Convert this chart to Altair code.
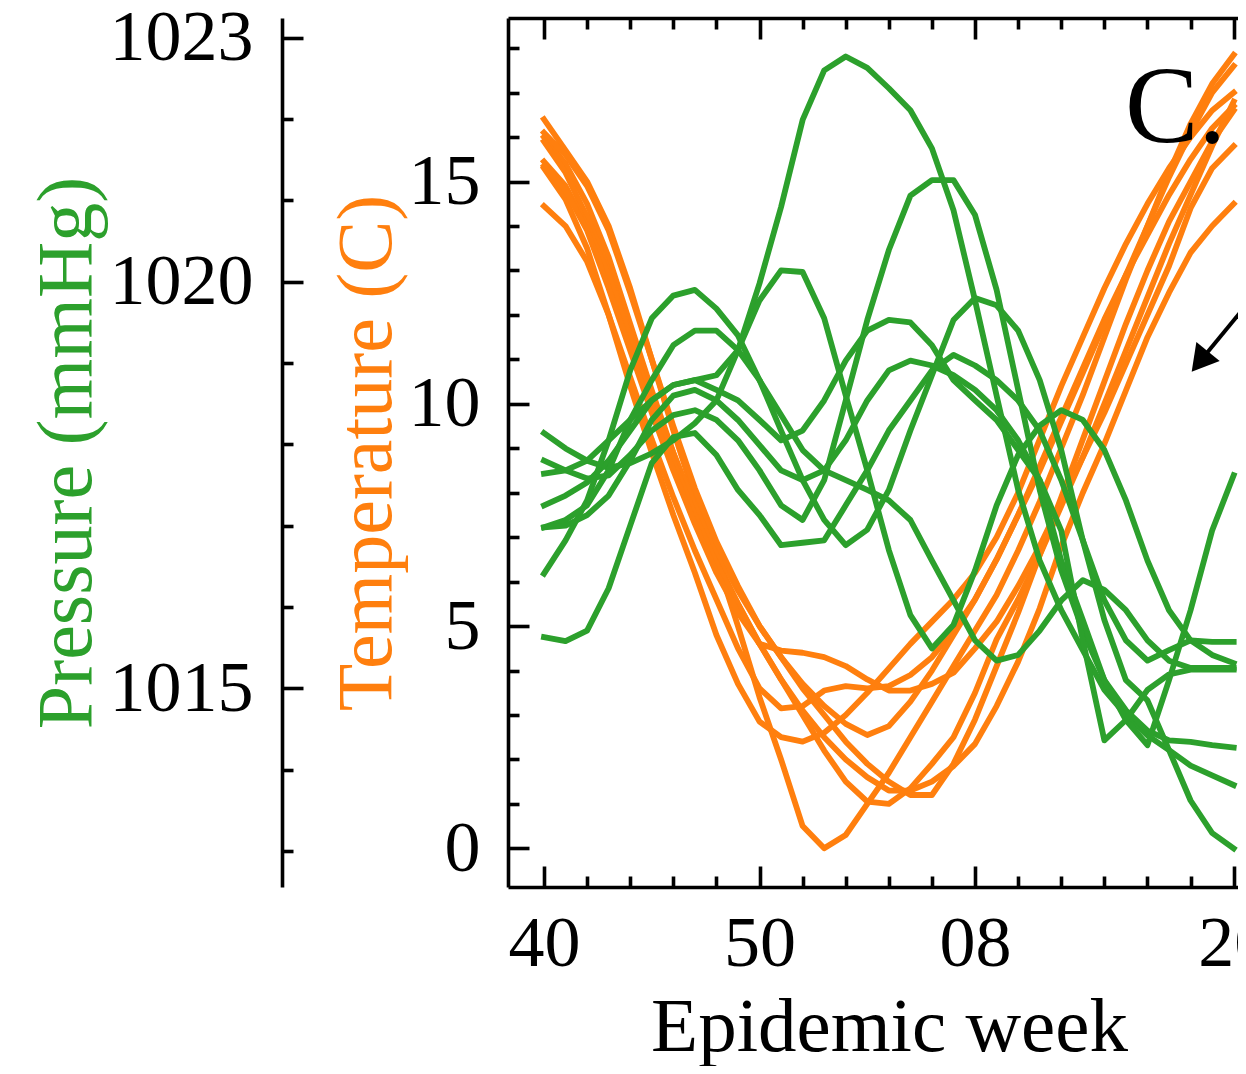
import altair as alt
import pandas as pd

ORANGE = "#ff7f0e"
GREEN = "#2ca02c"
FONT = "Liberation Serif"

# ---------------- data ----------------
week_index = list(range(33))                 # 0 = week 40 ... 32 = week 20
x_tick_values = list(range(0, 33, 2))
x_major_ticks = [0, 10, 20, 32]
x_major_labels = ["40", "50", "08", "20"]
temp_tick_values = list(range(0, 19))
temp_major_ticks = [0, 5, 10, 15]
pres_tick_values = list(range(1013, 1024))
pres_major_ticks = [1015, 1020, 1023]

temperature = {
    "t1": [16.4, 15.7, 15.0, 14.0, 12.6, 11.0, 9.4, 7.9, 6.5, 5.0, 3.4, 2.0, 0.5, 0.0, 0.3, 1.0, 1.7,
           2.5, 3.3, 4.1, 4.9, 5.7, 6.7, 7.8, 9.0, 10.2, 11.5, 12.8, 14.0, 15.2, 16.3, 17.2, 17.85],
    "t2": [16.0, 15.4, 14.5, 13.3, 11.8, 10.3, 8.9, 7.6, 6.5, 5.5, 4.6, 3.8, 3.0, 2.2, 1.5, 1.05, 1.0,
           1.35, 1.9, 2.5, 3.5, 4.7, 5.6, 6.6, 7.7, 8.8, 10.0, 11.2, 12.4, 13.6, 14.7, 15.8, 16.8],
    "t3": [15.9, 15.2, 14.2, 13.0, 11.6, 10.2, 8.9, 7.7, 6.7, 5.8, 5.0, 4.3, 3.6, 3.0, 2.4, 1.9, 1.5,
           1.2, 1.2, 1.9, 2.9, 4.1, 5.3, 6.6, 7.9, 9.2, 10.5, 11.8, 13.0, 14.1, 15.0, 15.9, 16.6],
    "t4": [15.45, 14.9, 14.0, 12.9, 11.5, 10.0, 8.7, 7.5, 6.4, 5.5, 4.6, 3.8, 3.1, 2.5, 2.0, 1.6, 1.3,
           1.3, 1.5, 1.85, 2.35, 3.2, 4.2, 5.4, 6.8, 8.0, 9.1, 10.3, 11.5, 12.5, 13.4, 14.0, 14.5],
    "t5": [15.3, 14.6, 13.5, 12.0, 10.4, 8.9, 7.5, 6.2, 4.8, 3.7, 2.85, 2.5, 2.4, 2.6, 3.0, 3.5, 4.05,
           4.6, 5.1, 5.6, 6.2, 7.0, 8.0, 9.2, 10.4, 11.5, 12.6, 13.6, 14.5, 15.3, 16.0, 16.6, 17.0],
    "t6": [14.45, 14.0, 13.2, 12.0, 10.6, 9.2, 7.9, 6.7, 5.6, 4.5, 3.6, 3.15, 3.2, 3.55, 3.65, 3.6, 3.65,
           3.9, 4.3, 4.9, 5.6, 6.5, 7.5, 8.6, 9.7, 10.8, 11.9, 12.9, 13.8, 14.7, 15.5, 16.2, 16.7],
    "t7": [15.35, 14.8, 13.9, 12.6, 11.2, 9.8, 8.5, 7.3, 6.2, 5.3, 4.6, 4.45, 4.4, 4.3, 4.1, 3.8, 3.55,
           3.55, 3.7, 3.95, 4.5, 5.1, 5.9, 6.8, 7.8, 8.8, 9.8, 10.9, 12.0, 13.1, 14.4, 15.3, 15.8],
    "t8": [16.1, 15.6, 14.9, 13.9, 12.5, 11.0, 9.5, 8.1, 6.9, 5.9, 5.0, 4.3, 3.7, 3.2, 2.8, 2.55, 2.75,
           3.3, 4.0, 4.8, 5.6, 6.5, 7.5, 8.5, 9.6, 10.7, 11.8, 12.9, 14.0, 15.1, 16.1, 17.0, 17.6],
}

pressure = {
    "p1": [1018.14, 1017.95, 1017.80, 1017.71, 1017.77, 1017.89, 1018.05, 1018.26, 1018.54, 1019.16,
           1019.98, 1020.92, 1021.99, 1022.60, 1022.77, 1022.63, 1022.38, 1022.11, 1021.64, 1020.88,
           1019.77, 1018.60, 1017.44, 1016.57, 1015.96, 1015.47, 1014.98, 1014.67, 1014.42, 1014.24,
           1014.05, 1013.93, 1013.81],
    "p2": [1017.25, 1017.37, 1017.53, 1017.80, 1018.17, 1018.54, 1018.73, 1018.79, 1018.85, 1019.16,
           1019.77, 1020.14, 1020.12, 1019.55, 1018.60, 1017.68, 1016.70, 1015.90, 1015.49, 1015.78,
           1016.45, 1017.25, 1017.87, 1018.23, 1018.42, 1018.30, 1017.93, 1017.31, 1016.57, 1015.96,
           1015.59, 1015.41, 1015.31],
    "p3": [1016.41, 1016.82, 1017.31, 1018.05, 1018.91, 1019.55, 1019.83, 1019.90, 1019.67, 1019.34,
           1018.79, 1018.17, 1017.56, 1017.07, 1016.76, 1016.95, 1017.44, 1018.17, 1018.85, 1019.53,
           1019.80, 1019.71, 1019.40, 1018.79, 1017.93, 1016.82, 1015.84, 1015.10, 1014.85, 1014.24,
           1013.62, 1013.22, 1013.03],
    "p4": [1016.98, 1017.07, 1017.25, 1017.68, 1018.30, 1018.79, 1019.22, 1019.40, 1019.40, 1019.16,
           1018.79, 1018.36, 1017.93, 1017.68, 1017.56, 1017.44, 1017.31, 1017.07, 1016.57, 1016.08,
           1015.59, 1015.34, 1015.41, 1015.71, 1016.08, 1016.33, 1016.21, 1015.96, 1015.59, 1015.34,
           1015.25, 1015.25, 1015.25],
    "p5": [1015.63, 1015.58, 1015.71, 1016.23, 1017.00, 1017.77, 1018.09, 1018.14, 1017.87, 1017.44,
           1017.13, 1016.76, 1016.79, 1016.82, 1017.25, 1017.68, 1018.17, 1018.54, 1018.91, 1019.10,
           1018.97, 1018.79, 1018.54, 1018.17, 1017.56, 1016.82, 1016.08, 1015.59, 1015.34, 1015.47,
           1015.59, 1015.57, 1015.57],
    "p6": [1017.80, 1017.68, 1017.58, 1017.62, 1017.87, 1018.17, 1018.36, 1018.42, 1018.30, 1018.05,
           1017.68, 1017.25, 1017.07, 1017.56, 1018.54, 1019.53, 1020.39, 1021.06, 1021.25, 1021.25,
           1020.82, 1019.90, 1018.67, 1017.44, 1016.45, 1015.71, 1015.10, 1014.73, 1014.48, 1014.36,
           1014.34, 1014.30, 1014.27],
    "p7": [1017.64, 1017.68, 1017.80, 1018.05, 1018.30, 1018.54, 1018.73, 1018.79, 1018.67, 1018.54,
           1018.30, 1018.05, 1018.17, 1018.54, 1019.03, 1019.40, 1019.53, 1019.50, 1019.22, 1018.79,
           1018.54, 1018.30, 1017.93, 1017.56, 1016.57, 1015.84, 1015.10, 1014.61, 1014.30, 1015.10,
           1015.96, 1016.94, 1017.62],
    "p8": [1016.98, 1017.00, 1017.13, 1017.37, 1017.80, 1018.30, 1018.60, 1018.67, 1018.54, 1018.30,
           1017.99, 1017.68, 1017.56, 1017.68, 1018.05, 1018.54, 1018.91, 1019.03, 1018.97, 1018.85,
           1018.67, 1018.42, 1018.05, 1017.56, 1016.94, 1015.59, 1014.36, 1014.61, 1014.98, 1015.17,
           1015.23, 1015.23, 1015.23],
}

panel_label = ["C."]
panel_label_x = [26.96]
panel_label_y = [15.89]

arrow_tail_x = [33.7]
arrow_tail_y = [12.88]
arrow_head_x = [30.43]
arrow_head_y = [10.95]

# ---------------- layout ----------------
W, H = 730, 869
X_DOMAIN = [-1.67, 32.2]
T_DOMAIN = [-0.87, 18.68]
P_DOMAIN = [1012.556, 1023.244]
P_OFFSET = 226
LINE_W = 5.8
AXIS_W = 3.6


def tidy(d):
    rows = []
    for name, vals in d.items():
        for w, v in zip(week_index, vals):
            rows.append({"series": name, "week": w, "value": v})
    return pd.DataFrame(rows)


temp_df = tidy(temperature)
pres_df = tidy(pressure)


def xs():
    return alt.Scale(domain=X_DOMAIN, nice=False, zero=False)


def ts():
    return alt.Scale(domain=T_DOMAIN, nice=False, zero=False)


def ps():
    return alt.Scale(domain=P_DOMAIN, nice=False, zero=False)


label_expr = "''"
for v, lab in reversed(list(zip(x_major_ticks, x_major_labels))):
    label_expr = f"datum.value === {v} ? '{lab}' : ({label_expr})"


def tick_size(majors):
    return {"condition": {"test": f"indexof({majors}, datum.value) >= 0", "value": 21}, "value": 11}


axis_x_main = alt.Axis(
    orient="bottom", values=x_major_ticks, labelExpr=label_expr, ticks=False,
    domain=True, domainWidth=AXIS_W, domainColor="black",
    labelFont=FONT, labelFontSize=72, labelColor="black", labelPadding=78,
    labelBaseline="alphabetic", labelFlush=False, labelOverlap=False, grid=False,
    title="Epidemic week", titleFont=FONT, titleFontSize=77, titleFontWeight="normal",
    titleColor="black", titleX=381, titleY=163, titleBaseline="alphabetic", titleAlign="center",
)
axis_x_bottom_ticks = alt.Axis(
    orient="top", offset=-H, values=x_tick_values, labels=False, domain=False,
    ticks=True, tickSize=tick_size(x_major_ticks), tickWidth=AXIS_W, tickColor="black",
    grid=False, title=None,
)
axis_x_top = alt.Axis(
    orient="bottom", offset=-H, values=x_tick_values, labels=False, domain=True,
    domainWidth=AXIS_W, domainColor="black",
    ticks=True, tickSize=tick_size(x_major_ticks), tickWidth=AXIS_W, tickColor="black",
    grid=False, title=None,
)
axis_t_main = alt.Axis(
    orient="left", values=temp_major_ticks, ticks=False, domain=True, domainWidth=AXIS_W,
    domainColor="black", labelFont=FONT, labelFontSize=72, labelColor="black",
    labelPadding=28, grid=False, format="d",
    title="Temperature (C)", titleFont=FONT, titleFontSize=78, titleFontWeight="normal",
    titleColor=ORANGE, titleX=-118, titleY=H / 2, titleAngle=270,
    titleBaseline="alphabetic", titleAlign="center",
)
axis_t_ticks = alt.Axis(
    orient="right", offset=-W, values=temp_tick_values, labels=False, domain=False,
    ticks=True, tickSize=tick_size(temp_major_ticks), tickWidth=AXIS_W, tickColor="black",
    grid=False, title=None,
)
axis_p_main = alt.Axis(
    orient="left", offset=P_OFFSET, values=pres_major_ticks, ticks=False, domain=True,
    domainWidth=AXIS_W, domainColor="black", labelFont=FONT, labelFontSize=72,
    labelColor="black", labelPadding=29, grid=False, format="d",
    title="Pressure (mmHg)", titleFont=FONT, titleFontSize=78, titleFontWeight="normal",
    titleColor=GREEN, titleX=-192, titleY=H / 2, titleAngle=270,
    titleBaseline="alphabetic", titleAlign="center",
)
axis_p_ticks = alt.Axis(
    orient="right", offset=-(W + P_OFFSET), values=pres_tick_values, labels=False,
    domain=False, ticks=True, tickSize=tick_size(pres_major_ticks), tickWidth=AXIS_W,
    tickColor="black", grid=False, title=None,
)

temp_layer = alt.Chart(temp_df).mark_line(
    color=ORANGE, strokeWidth=LINE_W, strokeCap="square", strokeJoin="round"
).encode(
    x=alt.X("week:Q", scale=xs(), axis=axis_x_main),
    y=alt.Y("value:Q", scale=ts(), axis=axis_t_main),
    detail="series:N",
)

pres_layer = alt.Chart(pres_df).mark_line(
    color=GREEN, strokeWidth=LINE_W, strokeCap="square", strokeJoin="round"
).encode(
    x=alt.X("week:Q", scale=xs(), axis=axis_x_bottom_ticks),
    y=alt.Y("value:Q", scale=ps(), axis=axis_p_main),
    detail="series:N",
)

label_df = pd.DataFrame({"x": panel_label_x, "y": panel_label_y, "text": panel_label})
label_layer = alt.Chart(label_df).mark_text(
    font=FONT, fontSize=110, align="left", baseline="alphabetic", color="black"
).encode(
    x=alt.X("x:Q", scale=xs(), axis=axis_x_top),
    y=alt.Y("y:Q", scale=ts(), axis=axis_t_ticks),
    text="text:N",
)

ptick_df = pd.DataFrame({"p": pres_tick_values})
ptick_layer = alt.Chart(ptick_df).mark_point(opacity=0).encode(
    y=alt.Y("p:Q", scale=ps(), axis=axis_p_ticks),
)

arrow_df = pd.DataFrame({"x": arrow_tail_x, "y": arrow_tail_y,
                         "x2": arrow_head_x, "y2": arrow_head_y})
arrow_line = alt.Chart(arrow_df).mark_rule(color="black", strokeWidth=4).encode(
    x=alt.X("x:Q", scale=xs(), axis=None),
    y=alt.Y("y:Q", scale=ts(), axis=None),
    x2="x2:Q",
    y2="y2:Q",
)
arrow_head = alt.Chart(arrow_df).mark_point(
    shape="triangle-up", size=900, filled=True, color="black", opacity=1, angle=219
).encode(
    x=alt.X("x2:Q", scale=xs(), axis=None),
    y=alt.Y("y2:Q", scale=ts(), axis=None),
)

chart = alt.layer(
    temp_layer, pres_layer, label_layer, ptick_layer, arrow_line, arrow_head
).resolve_scale(
    x="independent", y="independent"
).resolve_axis(
    x="independent", y="independent"
).properties(
    width=W, height=H,
    padding={"left": 500, "top": 10, "right": 0, "bottom": 179},
    autosize=alt.AutoSizeParams(type="none"),
    background="white",
).configure_view(stroke=None)

chart.save("out.html", embed_options={"renderer": "svg", "actions": False})
